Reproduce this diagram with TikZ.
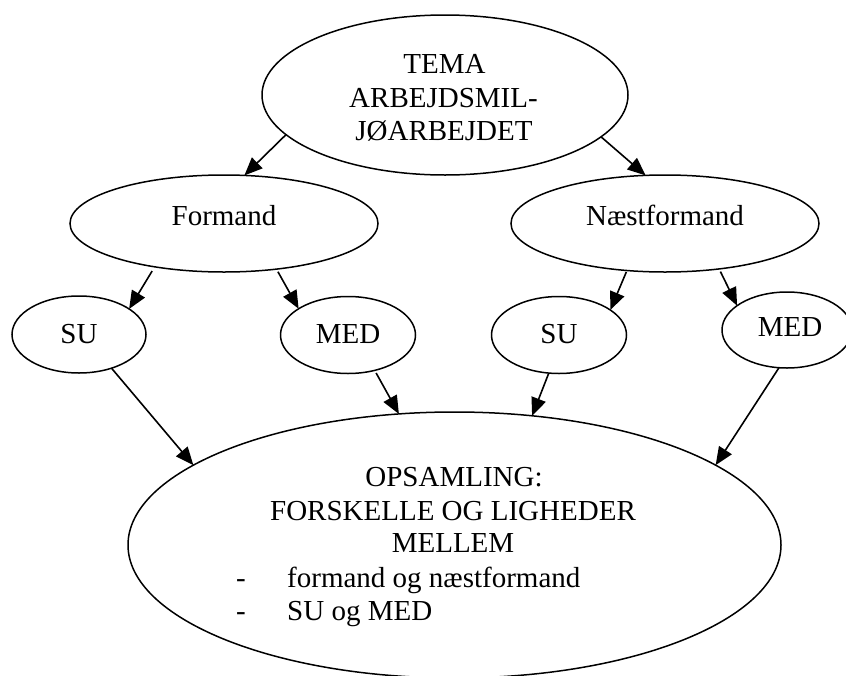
\documentclass[tikz,border=0pt]{standalone}
\usepackage{fontspec}
\setmainfont{Liberation Serif}
\usetikzlibrary{shapes.geometric,arrows.meta}
\begin{document}
\begin{tikzpicture}[x=1pt,y=-1pt,
  oval/.style={draw, ellipse, line width=1.5pt, inner sep=0pt, outer sep=0pt},
  lbl/.style={font=\fontsize{29}{33}\selectfont, inner sep=0pt, anchor=base},
  lblw/.style={lbl, anchor=base west},
  arr/.style={line width=1.6pt, -{Triangle[length=18pt 0 0,width=15pt 0 0]}}]
\useasboundingbox (0,0) rectangle (846,675);
\fill[white] (0,0) rectangle (846,675);

% ellipses
\node[oval, minimum width=366pt, minimum height=160pt] (tema) at (445,95) {};
\node[oval, minimum width=308pt, minimum height=97pt] (formand) at (224,223.5) {};
\node[oval, minimum width=308pt, minimum height=97pt] (naest) at (665,223.5) {};
\node[oval, minimum width=134pt, minimum height=77pt] (su1) at (79,334.5) {};
\node[oval, minimum width=135pt, minimum height=77pt] (med1) at (348,335) {};
\node[oval, minimum width=135pt, minimum height=77pt] (su2) at (559,335) {};
\node[oval, minimum width=130pt, minimum height=76pt] (med2) at (787,330) {};
\node[oval, minimum width=653pt, minimum height=266pt] (ops) at (454.5,545) {};

% texts
\node[lbl] (t1) at (444.5,73) {TEMA};
\node[lbl] (t2) at (443.5,107) {ARBEJDSMIL-};
\node[lbl] (t3) at (444,140) {JØARBEJDET};
\node[lbl] (tf) at (224,225) {Formand};
\node[lbl] (tn) at (665,225) {Næstformand};
\node[lbl] (ts1) at (79,343) {SU};
\node[lbl] (tm1) at (348,343) {MED};
\node[lbl] (ts2) at (559,343) {SU};
\node[lbl] (tm2) at (790,336) {MED};
\node[lbl] (o1) at (454,486) {OPSAMLING:};
\node[lbl] (o2) at (453,520) {FORSKELLE OG LIGHEDER};
\node[lbl] (o3) at (453,552) {MELLEM};
\node[lblw] (d1) at (236,587) {-};
\node[lblw] (o4) at (287,587) {formand og næstformand};
\node[lblw] (d2) at (236,620) {-};
\node[lblw] (o5) at (287,620) {SU og MED};

% connectors
\draw[arr] (tema.194.4) -- (formand.67.6);
\draw[arr] (tema.345.6) -- (naest.112.4);
\draw[arr, shorten <=5pt] (formand.212.2) -- (su1.27);
\draw[arr, shorten <=3pt] (formand.319.6) -- (med1.152.1);
\draw[arr, shorten <=1.5pt] (naest.231.9) -- (su2.26.6);
\draw[arr, shorten <=3pt] (naest.320.1) -- (med2.154.9);
\draw[arr] (su1.314.1) -- (ops.163.1);
\draw[arr, shorten <=3pt] (med1.307.4) -- (ops.113.4);
\draw[arr] (su2.255.6) -- (ops.59.8);
\draw[arr] (med2.258.1) -- (ops.17);
\end{tikzpicture}
\end{document}
